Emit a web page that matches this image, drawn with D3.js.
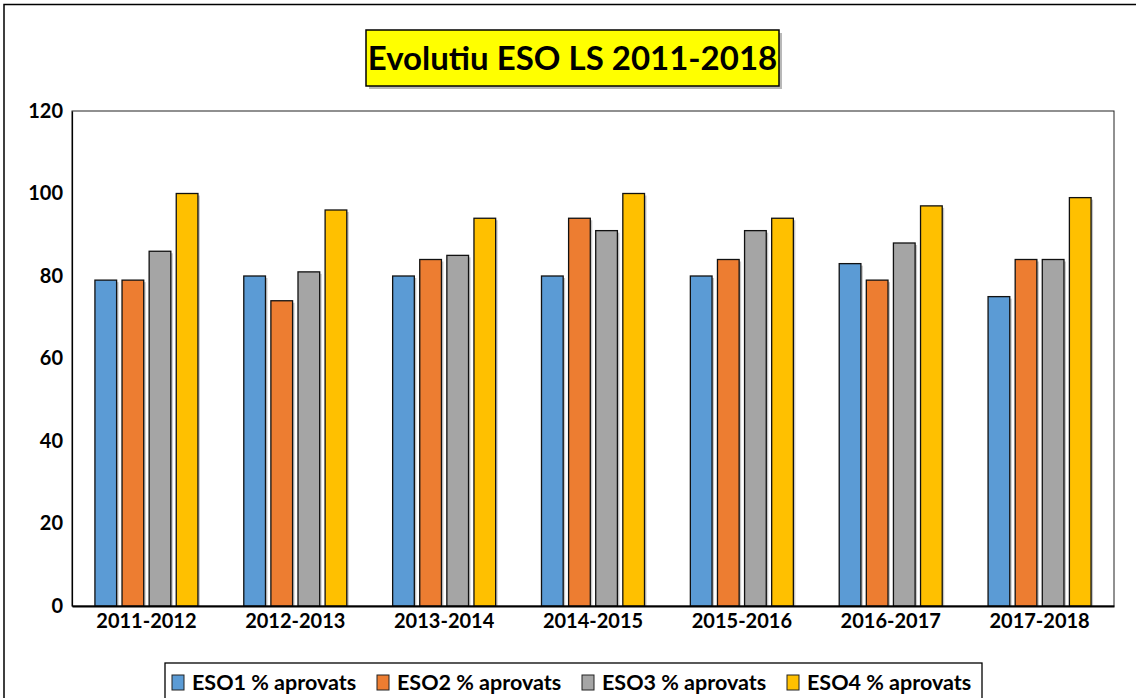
<!DOCTYPE html>
<html>
<head>
<meta charset="utf-8">
<script src="https://d3js.org/d3.v7.min.js"></script>
<style>
  html, body { margin: 0; padding: 0; background: #fff; }
  svg { display: block; font-family: Lato, "Open Sans", sans-serif; }
</style>
</head>
<body>
<svg id="chart" width="1136" height="698"></svg>
<script>
// School years on the x axis
const categories = ["2011-2012", "2012-2013", "2013-2014", "2014-2015", "2015-2016", "2016-2017", "2017-2018"];
// Pass rate (% aprovats) per ESO course
const eso1 = [79, 80, 80, 80, 80, 83, 75];
const eso2 = [79, 74, 84, 94, 84, 79, 84];
const eso3 = [86, 81, 85, 91, 91, 88, 84];
const eso4 = [100, 96, 94, 100, 94, 97, 99];
const seriesNames = ["ESO1 % aprovats", "ESO2 % aprovats", "ESO3 % aprovats", "ESO4 % aprovats"];
const seriesColors = ["#5b9bd5", "#ed7d31", "#a5a5a5", "#ffc000"];
const yTicks = [0, 20, 40, 60, 80, 100, 120];
const titleText = "Evolutiu ESO LS 2011-2018";

const series = [eso1, eso2, eso3, eso4];
const svg = d3.select("#chart");

const plot = { left: 72, right: 1114, top: 111, bottom: 606 };

// Outer chart frame (top and left edges visible)
svg.append("path")
  .attr("d", "M4,698 L4,4.5 L1136,4.5")
  .attr("fill", "none").attr("stroke", "#000").attr("stroke-width", 1.5);

const x0 = d3.scaleBand().domain(categories)
  .range([plot.left, plot.right]).paddingInner(0.308).paddingOuter(0.154);
const x1 = d3.scaleBand().domain(d3.range(series.length))
  .range([0, x0.bandwidth()]).paddingInner(0.2).paddingOuter(0);
const y = d3.scaleLinear().domain([0, 120]).range([plot.bottom, plot.top]);

// Plot area border
svg.append("rect")
  .attr("x", plot.left).attr("y", plot.top)
  .attr("width", plot.right - plot.left).attr("height", plot.bottom - plot.top)
  .attr("fill", "#fff").attr("stroke", "#222").attr("stroke-width", 1);

// Bars with a soft drop shadow
const groups = svg.append("g").selectAll("g")
  .data(categories).join("g")
  .attr("transform", d => `translate(${x0(d)},0)`);

groups.selectAll("rect.shadow")
  .data((d, i) => series.map((s, k) => ({ k, v: s[i] })))
  .join("rect").attr("class", "shadow")
  .attr("x", d => x1(d.k) + 2).attr("y", d => y(d.v) + 2)
  .attr("width", x1.bandwidth()).attr("height", d => y(0) - y(d.v) - 2)
  .attr("fill", "#000").attr("opacity", 0.22);

groups.selectAll("rect.bar")
  .data((d, i) => series.map((s, k) => ({ k, v: s[i] })))
  .join("rect").attr("class", "bar")
  .attr("x", d => x1(d.k)).attr("y", d => y(d.v))
  .attr("width", x1.bandwidth()).attr("height", d => y(0) - y(d.v))
  .attr("fill", d => seriesColors[d.k])
  .attr("stroke", "#111").attr("stroke-width", 1.3);

// Axes
const yAxis = svg.append("g")
  .attr("transform", `translate(${plot.left},0)`)
  .call(d3.axisLeft(y).tickValues(yTicks).tickSize(0).tickPadding(9));
yAxis.select(".domain").attr("stroke", "#000").attr("stroke-width", 1.2);
yAxis.selectAll("text")
  .attr("font-size", 20).attr("font-weight", "bold").attr("fill", "#000")
  .attr("font-family", "Lato, sans-serif");

const xAxis = svg.append("g")
  .attr("transform", `translate(0,${plot.bottom})`)
  .call(d3.axisBottom(x0).tickSize(0).tickPadding(8).tickSizeOuter(0));
xAxis.select(".domain").attr("stroke", "#000").attr("stroke-width", 2);
xAxis.selectAll("text")
  .attr("font-size", 20).attr("font-weight", "bold").attr("fill", "#000")
  .attr("font-family", "Lato, sans-serif");

// Title box
const titleG = svg.append("g");
const titleBox = { x: 366, y: 30, w: 413, h: 56 };
titleG.append("rect")
  .attr("x", titleBox.x + 3).attr("y", titleBox.y + 3)
  .attr("width", titleBox.w).attr("height", titleBox.h)
  .attr("fill", "#888").attr("opacity", 0.6);
titleG.append("rect")
  .attr("x", titleBox.x).attr("y", titleBox.y)
  .attr("width", titleBox.w).attr("height", titleBox.h)
  .attr("fill", "#ffff00").attr("stroke", "#000").attr("stroke-width", 1.5);
titleG.append("text")
  .attr("x", titleBox.x + titleBox.w / 2).attr("y", titleBox.y + titleBox.h / 2 + 12)
  .attr("text-anchor", "middle")
  .attr("font-size", 33).attr("font-weight", "bold").attr("fill", "#000")
  .text(titleText);

// Legend
const legend = svg.append("g");
const legBox = { x: 165, y: 663, w: 817, h: 40 };
legend.append("rect")
  .attr("x", legBox.x).attr("y", legBox.y)
  .attr("width", legBox.w).attr("height", legBox.h)
  .attr("fill", "#fff").attr("stroke", "#000").attr("stroke-width", 1.3);
const legX = [172, 377, 582, 787];
seriesNames.forEach((name, k) => {
  legend.append("rect")
    .attr("x", legX[k]).attr("y", 675)
    .attr("width", 12).attr("height", 15)
    .attr("fill", seriesColors[k]).attr("stroke", "#222").attr("stroke-width", 1);
  legend.append("text")
    .attr("x", legX[k] + 20).attr("y", 690)
    .attr("font-size", 21.5).attr("font-weight", "bold").attr("fill", "#000")
    .text(name);
});
</script>
</body>
</html>
